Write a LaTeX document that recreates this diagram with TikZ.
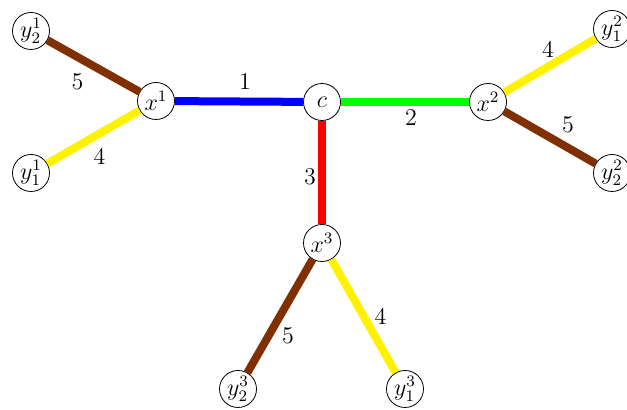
\documentclass[tikz,border=0pt]{standalone}
\usepackage{tikz}
\definecolor{edgebrown}{RGB}{128,48,0}

\begin{document}
\begin{tikzpicture}[x = .5pt, y = -.5pt, font = \large,
    vertex/.style = {draw = black, circle, thin, fill = white, minimum size = 18.5pt, inner sep = 0pt},
    wire/.style = {line width = 4pt},
    weight/.style = {text = black, inner sep = 2pt}]
    \useasboundingbox (0, 0) rectangle (627, 410);

    \node [vertex] (c) at (322, 102) {$c$};
    \node [vertex] (x1) at (156, 101) {$x^{1}$};
    \node [vertex] (x2) at (488, 102) {$x^{2}$};
    \node [vertex] (x3) at (322, 243) {$x^{3}$};

    \node [vertex] (y21) at (31, 31) {$y^{1}_{2}$};
    \node [vertex] (y11) at (31, 173) {$y^{1}_{1}$};
    \node [vertex] (y12) at (612, 29) {$y^{2}_{1}$};
    \node [vertex] (y22) at (612, 173) {$y^{2}_{2}$};
    \node [vertex] (y23) at (238, 389) {$y^{3}_{2}$};
    \node [vertex] (y13) at (405, 389) {$y^{3}_{1}$};

    %%%%%%%%%%%%%%%%%%%%
    \draw [wire, blue] (x1) -- node [weight, above, xshift = 3pt, yshift = 2pt] {1} (c);
    \draw [wire, green] (c) -- node [weight, below, xshift = 3pt] {2} (x2);
    \draw [wire, red] (c) -- node [weight, left, xshift = 1pt, yshift = -2pt] {3} (x3);

    \draw [wire, edgebrown] (y21) -- node [weight, below left, xshift = -1pt] {5} (x1);
    \draw [wire, yellow] (y11) -- node [weight, below, xshift = 3pt, yshift = -1.5pt] {4} (x1);
    \draw [wire, yellow] (x2) -- node [weight, above, xshift = -1pt, yshift = 0pt] {4} (y12);
    \draw [wire, edgebrown] (x2) -- node [weight, above right, xshift = 2pt, yshift = -2pt] {5} (y22);
    \draw [wire, edgebrown] (x3) -- node [weight, right, xshift = -3pt, yshift = -10pt] {5} (y23);
    \draw [wire, yellow] (x3) -- node [weight, right, xshift = 1.5pt] {4} (y13);
\end{tikzpicture}
\end{document}
